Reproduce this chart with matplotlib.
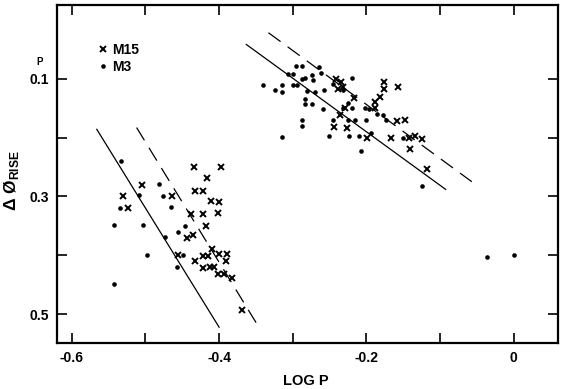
import numpy as np
import matplotlib
matplotlib.use("Agg")
import matplotlib.pyplot as plt

plt.rcParams["font.family"] = ["Liberation Sans", "DejaVu Sans"]
plt.rcParams["font.weight"] = "bold"
plt.rcParams["axes.unicode_minus"] = False
plt.rcParams["mathtext.fontset"] = "custom"
plt.rcParams["mathtext.bf"] = "Liberation Sans:bold"
plt.rcParams["mathtext.rm"] = "Liberation Sans"

# === Data (log P, delta phi rise) ===
m15_logp = [
    -0.434, -0.398, -0.504, -0.417, -0.530, -0.464, -0.433, -0.422, -0.411, -0.400,
    -0.524, -0.438, -0.422, -0.401, -0.418, -0.443, -0.436, -0.456, -0.409, -0.400,
    -0.389, -0.433, -0.422, -0.415, -0.391, -0.422, -0.413, -0.407, -0.401, -0.394,
    -0.382, -0.369,
    # right group
    -0.241, -0.234, -0.238, -0.232, -0.217, -0.229, -0.236, -0.244, -0.226, -0.199,
    -0.189, -0.189, -0.181, -0.176, -0.176, -0.157, -0.159, -0.148, -0.167, -0.142,
    -0.134, -0.125, -0.141, -0.118,
]
m15_dphi = [
    0.250, 0.250, 0.280, 0.269, 0.300, 0.300, 0.291, 0.290, 0.308, 0.309,
    0.319, 0.329, 0.330, 0.328, 0.350, 0.371, 0.366, 0.400, 0.390, 0.397,
    0.398, 0.410, 0.401, 0.401, 0.409, 0.422, 0.420, 0.419, 0.432, 0.431,
    0.439, 0.492,
    0.100, 0.105, 0.117, 0.114, 0.133, 0.149, 0.162, 0.182, 0.183, 0.200,
    0.149, 0.139, 0.131, 0.105, 0.117, 0.114, 0.172, 0.171, 0.200, 0.201,
    0.197, 0.202, 0.220, 0.253,
]

m3_logp = [
    -0.533, -0.481, -0.509, -0.476, -0.535, -0.465, -0.542, -0.503, -0.446, -0.474,
    -0.456, -0.498, -0.542, -0.449, -0.457,
    # right group
    -0.340, -0.324, -0.315, -0.315, -0.314, -0.307, -0.300, -0.300, -0.295, -0.288,
    -0.294, -0.288, -0.283, -0.274, -0.273, -0.265, -0.262, -0.281, -0.284, -0.283,
    -0.274, -0.270, -0.257, -0.259, -0.288, -0.288, -0.246, -0.251, -0.232, -0.219,
    -0.232, -0.219, -0.225, -0.245, -0.225, -0.216, -0.224, -0.210, -0.207, -0.202,
    -0.196, -0.186, -0.177, -0.200, -0.173, -0.194, -0.150, -0.125, -0.037, 0.000,
]
m3_dphi = [
    0.239, 0.278, 0.298, 0.300, 0.319, 0.318, 0.349, 0.349, 0.350, 0.368,
    0.361, 0.400, 0.449, 0.399, 0.419,
    0.110, 0.120, 0.122, 0.111, 0.199, 0.092, 0.092, 0.110, 0.079, 0.079,
    0.110, 0.100, 0.099, 0.093, 0.103, 0.081, 0.090, 0.121, 0.134, 0.143,
    0.143, 0.122, 0.120, 0.151, 0.170, 0.181, 0.109, 0.198, 0.120, 0.099,
    0.150, 0.150, 0.142, 0.170, 0.170, 0.171, 0.198, 0.198, 0.222, 0.150,
    0.151, 0.160, 0.161, 0.171, 0.170, 0.192, 0.201, 0.283, 0.402, 0.400,
]

# fitted relations (end points)
left_fit_x = [-0.566, -0.400]
left_fit_y = [0.186, 0.522]
left_edge_x = [-0.512, -0.346]
left_edge_y = [0.183, 0.522]
right_fit_x = [-0.363, -0.0925]
right_fit_y = [0.042, 0.288]
right_edge_x = [-0.333, -0.057]
right_edge_y = [0.022, 0.275]

# === Plotting ===
fig = plt.figure(figsize=(5.7, 3.89), dpi=100)
ax = fig.add_axes([0.1, 0.118, 0.879, 0.869])

ax.plot(left_fit_x, left_fit_y, "k-", lw=0.9)
ax.plot(right_fit_x, right_fit_y, "k-", lw=0.9)
ax.plot(left_edge_x, left_edge_y, "k", lw=0.9, linestyle=(0, (12, 7)))
ax.plot(right_edge_x, right_edge_y, "k", lw=0.9, linestyle=(0, (12, 7)))

ax.plot(m15_logp, m15_dphi, "x", color="k", ms=4.8, mew=1.4, label="M15")
ax.plot(m3_logp, m3_dphi, "o", color="k", ms=3.3, mew=0, label="M3")

ax.set_xlim(-0.62, 0.06)
ax.set_ylim(0.549, -0.025)

ax.set_xticks([-0.6, -0.5, -0.4, -0.3, -0.2, -0.1, 0.0])
ax.set_xticklabels(["-0.6", "", "-0.4", "", "-0.2", "", "0"])
ax.set_yticks([0.1, 0.2, 0.3, 0.4, 0.5])
ax.set_yticklabels(["0.1", "", "0.3", "", "0.5"])
ax.tick_params(direction="in", length=7, width=1.2, top=True, right=True,
               labelsize=10, pad=6)
for lab in ax.get_xticklabels() + ax.get_yticklabels():
    lab.set_fontweight("bold")
for s in ax.spines.values():
    s.set_linewidth(1.6)

ax.set_xlabel("LOG P", fontsize=10.5, fontweight="bold")
ax.xaxis.set_label_coords(0.496, -0.092)
ax.set_ylabel(r"Δ Ø$_{\mathbf{RISE}}$", fontsize=12.5, fontweight="bold")
ax.yaxis.set_label_coords(-0.072, 0.48)
ax.text(-0.034, 0.831, "P", transform=ax.transAxes, fontsize=7,
        fontweight="bold", ha="center", va="center")

ax.legend(loc="upper left", bbox_to_anchor=(0.072, 0.905), frameon=False,
          handlelength=0.6, handletextpad=0.4, labelspacing=0.25,
          borderaxespad=0, prop={"weight": "bold", "size": 10})

plt.savefig("out.png", dpi=100)
